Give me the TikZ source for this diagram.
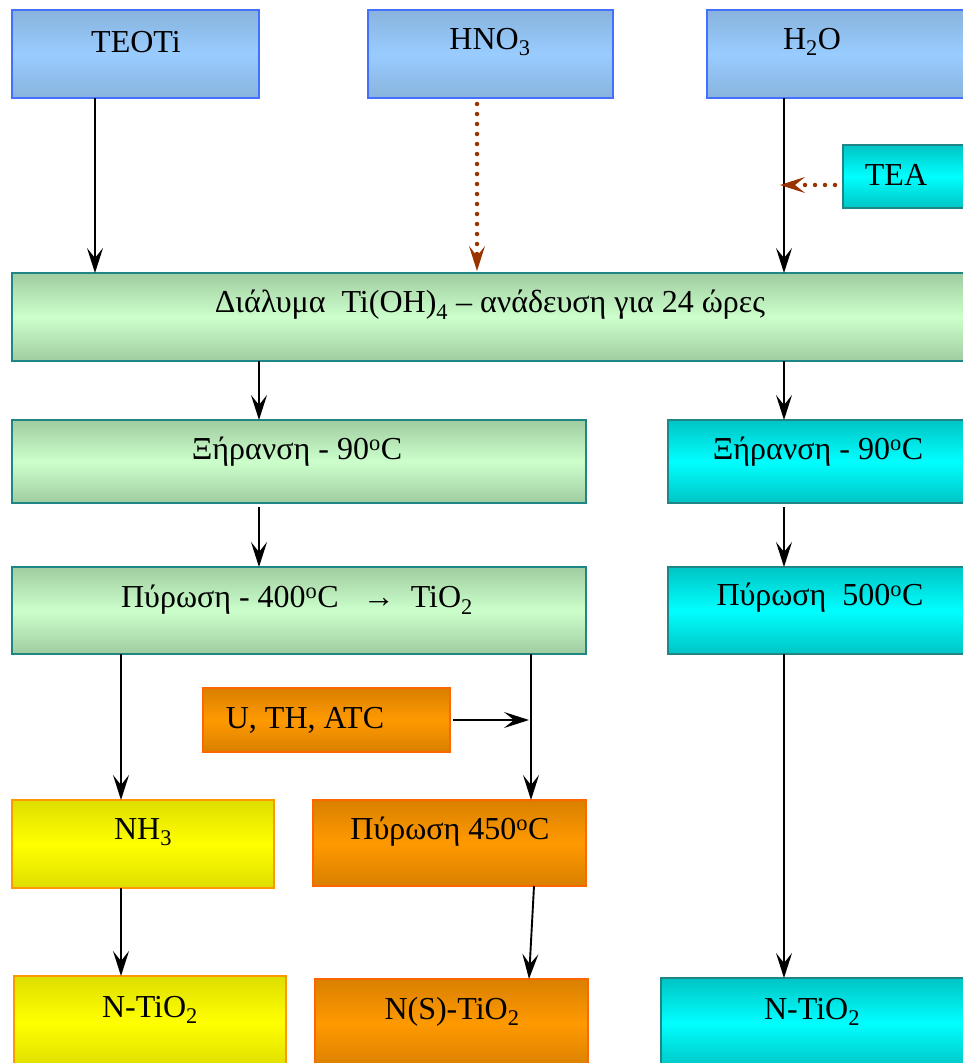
\documentclass[tikz,border=0pt]{standalone}
\usepackage{fontspec}
\setmainfont{Liberation Serif}
\usetikzlibrary{arrows.meta}

\definecolor{bluetop}{HTML}{88B3DD}
\definecolor{bluemid}{HTML}{99CCFF}
\definecolor{blueedge}{HTML}{4470FF}
\definecolor{greentop}{HTML}{A0CCA0}
\definecolor{greenmid}{HTML}{CCFFCC}
\definecolor{tealedge}{HTML}{1F8585}
\definecolor{cyantop}{HTML}{00C4C4}
\definecolor{cyanmid}{HTML}{00FFFF}
\definecolor{orangetop}{HTML}{D98000}
\definecolor{orangemid}{HTML}{FF9900}
\definecolor{orangeedge}{HTML}{FF6600}
\definecolor{yellowtop}{HTML}{DEDE00}
\definecolor{yellowmid}{HTML}{FFFF00}
\definecolor{yellowedge}{HTML}{FF9900}
\definecolor{brown}{HTML}{993300}

\newcommand\flowbox[6]{%
  \pgfmathsetmacro\fbw{#5-#3}\pgfmathsetmacro\fbh{#6-#4}%
  \node[#1, minimum width=\fbw pt, minimum height=\fbh pt] (#2) at ({(#3+#5)/2},{(#4+#6)/2}) {};}

\tikzset{
  boxbase/.style={rectangle, inner sep=0pt, outer sep=0pt, line width=1.6pt},
  bluebox/.style={boxbase, draw=blueedge, top color=bluetop, bottom color=bluetop, middle color=bluemid},
  greenbox/.style={boxbase, draw=tealedge, top color=greentop, bottom color=greentop, middle color=greenmid},
  cyanbox/.style={boxbase, draw=tealedge, top color=cyantop, bottom color=cyantop, middle color=cyanmid},
  orangebox/.style={boxbase, draw=orangeedge, top color=orangetop, bottom color=orangetop, middle color=orangemid},
  yellowbox/.style={boxbase, draw=yellowedge, top color=yellowtop, bottom color=yellowtop, middle color=yellowmid},
  txt/.style={font=\fontsize{32}{37}\selectfont, inner sep=0pt},
  arr/.style={line width=1.9pt, -{Stealth[length=25pt, width=16pt, inset=10pt]}},
  dotarr/.style={brown, line width=4.5pt, line cap=round, dash pattern=on 0pt off 10pt,
    -{Stealth[length=25pt, width=16pt, inset=10pt, line width=0pt, sep=2pt]}},
}

\begin{document}
\begin{tikzpicture}[x=1pt, y=-1pt]
\useasboundingbox (0,0) rectangle (963,1063);

% starting materials
\flowbox{bluebox}{teoti}{12}{10}{259}{98}
\flowbox{bluebox}{hno}{368}{10}{613}{98}
\flowbox{bluebox}{water}{707}{10}{968}{98}
\flowbox{cyanbox}{tea}{843}{145}{968}{208}
\node[txt] at (136,42) {TEOTi};
\node[txt] at (490,42) {HNO\textsubscript{3}};
\node[txt] at (812,42) {H\textsubscript{2}O};
\node[txt] at (896,175) {TEA};

% solution and drying
\flowbox{greenbox}{sol}{12}{273}{968}{361}
\node[txt] at (490,305) {Διάλυμα\ \ Ti(OH)\textsubscript{4} – ανάδευση για 24 ώρες};
\flowbox{greenbox}{dryl}{12}{420}{586}{503}
\node[txt] at (297,452) {Ξήρανση - 90\textsuperscript{o}C};
\flowbox{cyanbox}{dryr}{668}{420}{968}{503}
\node[txt] at (818,452) {Ξήρανση - 90\textsuperscript{o}C};

% calcination
\flowbox{greenbox}{calcl}{12}{567}{586}{654}
\node[txt] at (297,600) {Πύρωση - 400\textsuperscript{o}C\ \ \ →\ \ TiO\textsubscript{2}};
\flowbox{cyanbox}{calcr}{668}{567}{968}{654}
\node[txt] at (820,598) {Πύρωση\ \ 500\textsuperscript{o}C};

% doping
\flowbox{orangebox}{dop}{203}{688}{450}{752}
\node[txt] at (305,720) {U, TH, ATC};
\flowbox{yellowbox}{nh}{12}{800}{274}{888}
\node[txt] at (143,832) {NH\textsubscript{3}};
\flowbox{orangebox}{calcm}{313}{800}{586}{886}
\node[txt] at (450,832) {Πύρωση 450\textsuperscript{o}C};

% products
\flowbox{yellowbox}{pl}{14}{976}{286}{1068}
\node[txt] at (150,1010) {N-TiO\textsubscript{2}};
\flowbox{orangebox}{pm}{315}{979}{588}{1068}
\node[txt] at (452,1012) {N(S)-TiO\textsubscript{2}};
\flowbox{cyanbox}{pr}{661}{978}{968}{1068}
\node[txt] at (812,1012) {N-TiO\textsubscript{2}};

% connectors
\coordinate (join) at (529,720);
\draw[arr] (teoti.south -| 95,0) -- (sol.north -| 95,0);
\draw[dotarr] (hno.south -| 477,0) ++(0,6) -- (sol.north -| 477,0);
\draw[arr] (water.south -| 784,0) -- (sol.north -| 784,0);
\draw[dotarr] (tea.west |- 0,185) ++(-8,0) -- (778,185);
\draw[arr] (sol.south -| 259,0) -- (dryl.north -| 259,0);
\draw[arr] (sol.south -| 784,0) -- (dryr.north -| 784,0);
\draw[arr] (dryl.south -| 259,0) ++(0,4) -- (calcl.north -| 259,0);
\draw[arr] (dryr.south -| 784,0) ++(0,4) -- (calcr.north -| 784,0);
\draw[arr] (calcl.south -| 121,0) -- (nh.north -| 121,0);
\draw[arr] (calcl.south -| 531,0) -- (calcm.north -| 531,0);
\draw[arr] (dop.east) ++(3,0) -- (join);
\draw[arr] (nh.south -| 121,0) -- (pl.north -| 121,0);
\draw[arr] (calcm.south -| 534,0) -- (pm.north -| 529,0);
\draw[arr] (calcr.south -| 784,0) -- (pr.north -| 784,0);
\end{tikzpicture}
\end{document}
